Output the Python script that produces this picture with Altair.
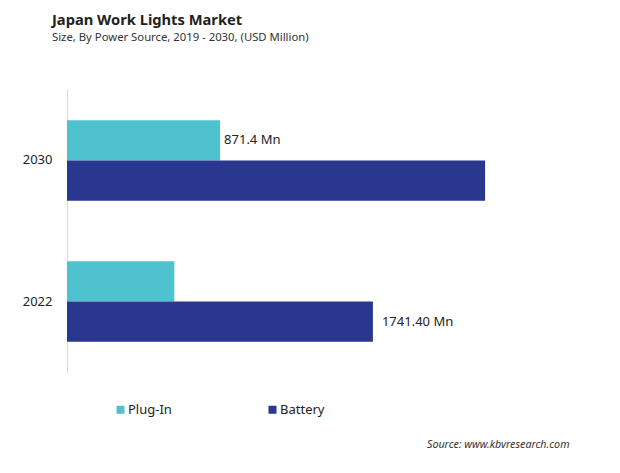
import altair as alt
import pandas as pd

years = ["2030", "2022"]
series = ["Plug-In", "Battery"]
plug_in = [871.4, 611.0]
battery = [2380.0, 1741.4]
plug_in_labels = ["871.4 Mn", ""]
battery_labels = ["", "1741.40 Mn"]
colors = ["#4EC3CF", "#2A378E"]

rows = []
for i, y in enumerate(years):
    rows.append({"year": y, "series": "Plug-In", "value": plug_in[i], "label": plug_in_labels[i]})
    rows.append({"year": y, "series": "Battery", "value": battery[i], "label": battery_labels[i]})
df = pd.DataFrame(rows)

FONT = "Noto Sans"

y_enc = alt.Y(
    "year:N",
    sort=years,
    scale=alt.Scale(paddingInner=0.428, paddingOuter=0.221),
    axis=alt.Axis(
        title=None, ticks=False, domainColor="#d9d9d9", domainWidth=1,
        labelFontSize=13, labelColor="#222222", labelPadding=15, labelFont=FONT,
    ),
)
x_enc = alt.X(
    "value:Q",
    scale=alt.Scale(domain=[0, 3000], nice=False),
    axis=alt.Axis(
        labels=False, ticks=False, domain=False, grid=False,
        title="Source: www.kbvresearch.com", titleFontStyle="italic",
        titleFontWeight="normal", titleFontSize=10.7, titleColor="#333333",
        titleFont=FONT, titleAlign="right", titleAnchor="end",
        titleX=502, titleY=71, titleBaseline="middle",
    ),
)
yoff = alt.YOffset("series:N", sort=series, scale=alt.Scale(paddingInner=0, paddingOuter=0))

bars = alt.Chart(df).mark_bar().encode(
    x=x_enc,
    y=y_enc,
    yOffset=yoff,
    color=alt.Color(
        "series:N", sort=series,
        scale=alt.Scale(domain=series, range=colors),
        legend=alt.Legend(
            title=None, orient="none", legendX=47, legendY=314,
            direction="horizontal", columns=2, columnPadding=94,
            symbolType="square", symbolSize=64, symbolStrokeWidth=0,
            labelFontSize=13, labelColor="#222222", labelFont=FONT,
            labelOffset=1, padding=0,
        ),
    ),
)

text_plug = alt.Chart(df).transform_filter(
    (alt.datum.series == "Plug-In") & (alt.datum.label != "")
).mark_text(align="left", baseline="middle", dx=4, fontSize=13, font=FONT, color="#222222").encode(
    x="value:Q", y=alt.Y("year:N", sort=years), yOffset=alt.YOffset("series:N", sort=series), text="label:N"
)
text_batt = alt.Chart(df).transform_filter(
    (alt.datum.series == "Battery") & (alt.datum.label != "")
).mark_text(align="left", baseline="middle", dx=9, fontSize=13, font=FONT, color="#222222").encode(
    x="value:Q", y=alt.Y("year:N", sort=years), yOffset=alt.YOffset("series:N", sort=series), text="label:N"
)

chart = alt.layer(bars, text_plug, text_batt).properties(
    width=527,
    height=284,
    background="white",
    autosize=alt.AutoSizeParams(type="none"),
    padding={"left": 59, "top": 81, "right": 18, "bottom": 92},
    title=alt.TitleParams(
        text="Japan Work Lights Market",
        subtitle="Size, By Power Source, 2019 - 2030, (USD Million)",
        anchor="start", frame="group", dx=-15, offset=46,
        font=FONT, fontSize=14.7, fontWeight="bold", color="#222222",
        subtitleFont=FONT, subtitleFontSize=11.3, subtitleColor="#333333",
        subtitlePadding=4,
    ),
).configure_view(stroke="transparent", strokeWidth=0)

chart.save("out.html", embed_options={"renderer": "svg", "actions": False})
